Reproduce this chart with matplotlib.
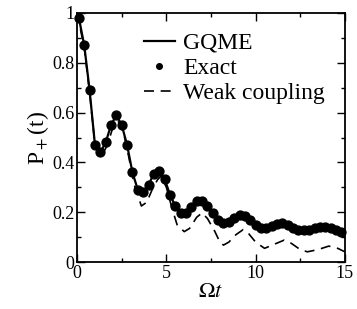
import matplotlib
matplotlib.use("Agg")
import matplotlib.pyplot as plt
from matplotlib.ticker import MultipleLocator

# exact result (dots)
exact_t = [0.1, 0.4, 0.7, 1.0, 1.3, 1.6, 1.9, 2.2, 2.5, 2.8,
           3.1, 3.4, 3.7, 4.0, 4.3, 4.6, 4.9, 5.2, 5.5, 5.8,
           6.1, 6.4, 6.7, 7.0, 7.3, 7.6, 7.9, 8.2, 8.5, 8.8,
           9.1, 9.4, 9.7, 10.0, 10.3, 10.6, 10.9, 11.2, 11.5, 11.8,
           12.1, 12.4, 12.7, 13.0, 13.3, 13.6, 13.9, 14.2, 14.5, 14.8]
exact_p = [0.98, 0.87, 0.69, 0.47, 0.44, 0.48, 0.55, 0.59, 0.55, 0.47,
           0.36, 0.29, 0.28, 0.31, 0.355, 0.365, 0.335, 0.27, 0.225, 0.195,
           0.198, 0.222, 0.245, 0.245, 0.225, 0.195, 0.168, 0.156, 0.16, 0.175,
           0.188, 0.185, 0.17, 0.148, 0.136, 0.135, 0.145, 0.153, 0.155, 0.148,
           0.137, 0.13, 0.127, 0.13, 0.136, 0.139, 0.139, 0.136, 0.13, 0.122]

# GQME (solid line)
gqme_t = [0.0] + exact_t + [15.0]
gqme_p = [1.0] + exact_p + [0.118]

# weak coupling approximation (dashed)
weak_t = [0.0, 0.4, 0.7, 1.0, 1.4, 1.7, 2.0, 2.3, 2.6, 2.9,
          3.2, 3.6, 3.9, 4.2, 4.5, 4.7, 5.0, 5.3, 5.6, 6.0,
          6.3, 6.7, 7.0, 7.3, 7.7, 8.0, 8.2, 8.5, 8.9, 9.3,
          9.6, 10.0, 10.5, 11.0, 11.6, 12.0, 12.5, 12.9, 13.5, 14.1,
          14.6, 15.0]
weak_p = [1.0, 0.86, 0.68, 0.47, 0.43, 0.47, 0.54, 0.565, 0.52, 0.42,
          0.31, 0.225, 0.24, 0.29, 0.33, 0.345, 0.30, 0.22, 0.15, 0.122,
          0.135, 0.18, 0.197, 0.175, 0.125, 0.08, 0.068, 0.08, 0.11, 0.13,
          0.115, 0.08, 0.055, 0.07, 0.088, 0.075, 0.05, 0.041, 0.05, 0.064,
          0.055, 0.041]

plt.rcParams["font.family"] = ["Liberation Serif", "DejaVu Serif"]
plt.rcParams["mathtext.fontset"] = "stix"

fig = plt.figure(figsize=(3.57, 3.09), dpi=100)
ax = fig.add_axes([0.216, 0.152, 0.750, 0.806])

ax.plot(gqme_t, gqme_p, color="black", lw=1.6, label="GQME")
ax.plot(exact_t, exact_p, "o", color="black", ms=6.4, label="Exact", clip_on=False)
ax.plot(weak_t, weak_p, color="black", lw=1.2, ls=(0, (6, 4)), label="Weak coupling")

ax.set_xlim(0, 15)
ax.set_ylim(0, 1)
ax.xaxis.set_minor_locator(MultipleLocator(2.5))
ax.yaxis.set_minor_locator(MultipleLocator(0.1))
ax.set_xticks([0, 5, 10, 15], ["0", "5", "10", "15"])
ax.set_yticks([0, 0.2, 0.4, 0.6, 0.8, 1], ["0", "0.2", "0.4", "0.6", "0.8", "1"])
ax.tick_params(which="both", direction="in", top=True, right=True, width=1)
ax.tick_params(which="major", length=6, labelsize=13, pad=2)
ax.tick_params(which="minor", length=3)
for s in ax.spines.values():
    s.set_linewidth(1.3)

ax.set_xlabel(r"$\Omega t$", fontsize=16, labelpad=1)
ax.set_ylabel(r"P$_+$(t)", fontsize=17, labelpad=1)

ax.legend(loc="upper right", bbox_to_anchor=(0.96, 0.96), frameon=False,
          fontsize=17, handlelength=1.3, handletextpad=0.35,
          labelspacing=0.15, borderaxespad=0.0, markerscale=0.63)

fig.savefig("out.png", dpi=100)
